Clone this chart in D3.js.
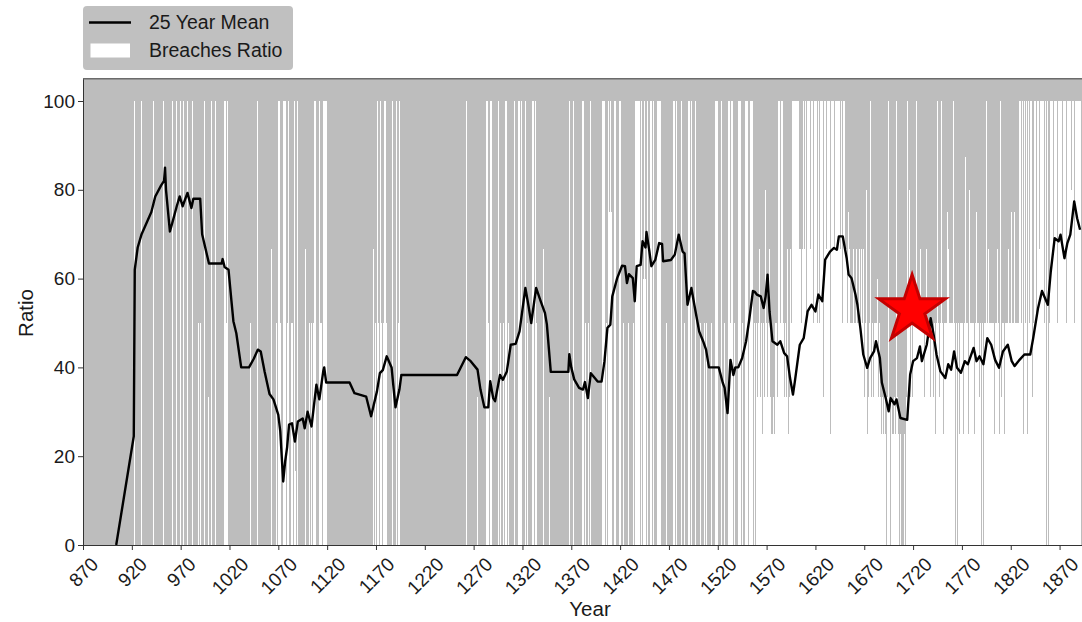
<!DOCTYPE html>
<html>
<head>
<meta charset="utf-8">
<script src="https://cdn.jsdelivr.net/npm/d3@7"></script>
<title>Breaches Ratio</title>
<style>
  body { margin: 0; background: #fff; }
  svg { display: block; font-family: "Liberation Sans", Arial, Helvetica, sans-serif; }
  .axis text { fill: #1a1a1a; font-size: 19px; }
  .axis path, .axis line { stroke: #333; }
</style>
</head>
<body>
<svg id="chart" width="1082" height="622"></svg>
<script>

// breaches ratio, one character per year, rows of 50 years starting at 870
const breachStart = 870
const breachLevels = {
    ".": 0, "1": 16.7, "2": 20, "3": 25, "4": 33.3, "x": 40, "5": 50,
    "y": 60, "6": 66.7, "7": 75, "8": 80, "z": 87.5, "9": 100
}
const breachRows = [
    ".......... .......... .......... .......... ..........",   // 870
    "...9...... 9......... ..9....... ..9....... ..9...9...",   // 920
    "9..9...9.. ..9.....5. 5...9...4. ..9...9... .....9959.",   // 970
    ".......... .......... .5.......9 .......... ...6....5.",   // 1020
    "995..999.5 9..5.5.91. 9.......6. ..5.5.599. ..955.9999",   // 1070
    ".......... .......... .......... .......... .......6.5",   // 1120
    "5.95.95.59 95.....9.. .9.59..... .......... ..........",   // 1170
    ".......... .......... .......... .......... ...9......",   // 1220
    "....4..... ...995.99. .....9.5.. .5.99.5... ..9...9959",   // 1270
    "...9.5.... 99.95..... ..6.....4. .......... ........9.",   // 1320
    "..9....... .99..5..5. 9......... ..999.5.97 97..99...9",   // 1370
    "9..5.....5 ....5.9999 9.9.y9y.9. .99.9...99 99......5.",   // 1420
    ".....99.9. ...9..5... 99.9...9.. ..5...5.5. ....5...99",   // 1470
    "9...9..5.. .99599.5.. .999.5..99 9.5.999.5. 5456453548",   // 1520
    "5456433435 5499599545 4634645999 9999665696 9599969959",   // 1570
    "9959599949 9699939999 6999996959 9665765556 5565565656",   // 1620
    "4583459454 5455y45434 343.494.43 343943.3.. .3.4958454",   // 1670
    "5556955565 5545655545 5453595459 5355576555 595.5.5535",   // 1720
    "5535z55385 5553575545 .5.5595655 5553556535 9455355565",   // 1770
    "5755755559 9593959395 9945995996 9969959.9. 5999699959",   // 1820
    "9996999599 9989959999 99"                                  // 1870
]

// 25 year mean, [year, ratio]
const meanPoints = [
    [904, 0], [922, 24.5], [923, 62], [926, 67], [930, 70], [940, 75], [944, 78.5],
    [950, 81], [953, 82], [954, 85], [955, 80], [959, 70.6], [962, 73], [966, 76.3],
    [969, 78.5], [972, 76.3], [977, 79.3], [981, 75.9], [983, 78], [990, 78], [992, 70],
    [999, 63.4], [1012, 63.4], [1013, 64.4], [1015, 62.6], [1019, 62], [1022, 55],
    [1024, 50.4], [1027, 47.7], [1032, 40], [1040, 40], [1045, 42], [1049, 44],
    [1052, 43.6], [1056, 39], [1061, 34], [1065, 32.8], [1070, 29.3], [1072, 25.6],
    [1075, 14.3], [1077, 18.8], [1079, 22], [1081, 27.1], [1084, 27.4], [1087, 23.3],
    [1090, 27.8], [1095, 28.5], [1097, 26.3], [1100, 30], [1104, 26.7], [1109, 36.1],
    [1112, 32.8], [1116, 39.1], [1117, 40], [1119, 36.6], [1143, 36.6], [1148, 34.2],
    [1160, 33.4], [1165, 29], [1171, 34.6], [1174, 38.7], [1177, 39.4], [1181, 42.5],
    [1186, 40], [1188, 35.4], [1190, 31], [1194, 35], [1196, 38.3], [1253, 38.3],
    [1262, 42.3], [1267, 41.4], [1274, 39.5], [1277, 35], [1281, 31], [1285, 31],
    [1287, 36.9], [1290, 33.1], [1292, 32.4], [1297, 38.3], [1300, 37.2], [1304, 39.1],
    [1308, 45.1], [1313, 45.3], [1317, 48.1], [1323, 57.9], [1326, 54.1], [1329, 50],
    [1334, 57.9], [1339, 54.7], [1343, 52.3], [1345, 49.7], [1349, 39], [1367, 39],
    [1368, 43], [1370, 40], [1373, 37.3], [1378, 35.4], [1382, 35], [1384, 36.7],
    [1387, 33.1], [1390, 38.7], [1393, 37.9], [1397, 36.8], [1401, 36.8], [1404, 41.4],
    [1407, 48.9], [1410, 49.6], [1412, 56], [1417, 60.1], [1422, 62.9], [1425, 62.8],
    [1427, 59], [1429, 61], [1433, 60.1], [1435, 54.9], [1437, 62.8], [1441, 63.1],
    [1443, 68.4], [1446, 67], [1447, 70.5], [1450, 66.1], [1452, 62.8], [1456, 64.2],
    [1460, 68], [1463, 67.8], [1464, 63.9], [1472, 64.2], [1476, 65.4], [1480, 69.9],
    [1484, 66.1], [1486, 65.7], [1489, 54.1], [1493, 57.9], [1496, 54.1], [1501, 48.1],
    [1505, 45.9], [1508, 44], [1511, 40], [1521, 40], [1525, 36.6], [1527, 35.4],
    [1530, 29.7], [1533, 41.7], [1536, 38.3], [1538, 40], [1541, 40], [1545, 42.1],
    [1549, 45.9], [1552, 50.4], [1556, 57.2], [1558, 57], [1560, 56.4], [1564, 56],
    [1567, 53.4], [1569, 56], [1571, 60.9], [1573, 52.6], [1576, 45.9], [1581, 45.1],
    [1584, 45.9], [1588, 43.2], [1591, 42.5], [1594, 37.6], [1597, 33.9], [1599, 36.9],
    [1604, 45.1], [1608, 46.6], [1612, 52.6], [1616, 54.1], [1620, 52.6], [1623, 56.4],
    [1627, 54.9], [1630, 64.3], [1635, 66.1], [1639, 66.9], [1642, 66.5], [1644, 69.5],
    [1648, 69.5], [1652, 64.6], [1654, 60.9], [1657, 60.1], [1661, 56.4], [1663, 54.1],
    [1666, 48.9], [1669, 42.9], [1673, 39.9], [1676, 42.1], [1680, 43.6], [1682, 45.9],
    [1686, 42.1], [1688, 36.6], [1692, 33.1], [1695, 30.1], [1697, 33.1], [1701, 31.7],
    [1703, 32.8], [1707, 28.6], [1714, 28.2], [1717, 38.4], [1720, 41.4], [1724, 42.1],
    [1727, 44.7], [1729, 41.4], [1734, 45.1], [1738, 51.1], [1741, 47.4], [1744, 42.9],
    [1748, 39.1], [1753, 37.6], [1756, 40.7], [1759, 39.5], [1762, 43.6], [1765, 39.9],
    [1769, 38.8], [1773, 41.4], [1776, 40.7], [1782, 44.4], [1785, 41.4], [1788, 42.5],
    [1792, 40.7], [1796, 46.6], [1800, 45.1], [1804, 41.7], [1808, 39.9], [1812, 43.6],
    [1817, 45.1], [1821, 41.4], [1824, 40.3], [1829, 41.7], [1834, 42.9], [1840, 42.9],
    [1843, 46.6], [1848, 53.4], [1852, 57.2], [1858, 54.1], [1861, 61.6], [1865, 69.1],
    [1869, 68.4], [1871, 69.9], [1875, 64.6], [1878, 68], [1881, 69.9], [1885, 77.4],
    [1888, 73.6], [1891, 71]
]

const xTicks = d3.range(870, 1871, 50)
const yTicks = [0, 20, 40, 60, 80, 100]
const starPoint = [1719, 53]

const breaches = []
breachRows.forEach(function (row, i) {
    row.replace(/ /g, "").split("").forEach(function (c, j) {
        breaches.push({ year: breachStart + i * 50 + j, value: breachLevels[c] })
    })
})

var svg = d3.select("#chart")

var x = d3.scaleLinear().domain([870, 1894]).range([83, 1083])
var y = d3.scaleLinear().domain([0, 105]).range([545, 78.8])

svg.append("clipPath").attr("id", "plotClip")
    .append("rect")
    .attr("x", x(870)).attr("y", y(105))
    .attr("width", x(1894) - x(870)).attr("height", y(0) - y(105))

// plot background
svg.append("rect")
    .attr("x", x(870)).attr("y", y(105))
    .attr("width", x(1894) - x(870)).attr("height", y(0) - y(105))
    .attr("fill", "#bdbdbd")

var plot = svg.append("g").attr("clip-path", "url(#plotClip)")

// one pixel wide bars, snapped so they stay bright white
plot.append("g")
    .attr("shape-rendering", "crispEdges")
    .selectAll("rect")
    .data(breaches.filter(d => d.value > 0))
    .enter().append("rect")
    .attr("x", d => Math.round(x(d.year - 0.5)))
    .attr("width", d => Math.max(1, Math.round(x(d.year + 0.5)) - Math.round(x(d.year - 0.5))))
    .attr("y", d => Math.round(y(d.value)))
    .attr("height", d => y(0) - Math.round(y(d.value)))
    .attr("fill", "#fff")

var line = d3.line().x(d => x(d[0])).y(d => y(d[1]))

plot.append("path")
    .datum(meanPoints)
    .attr("d", line)
    .attr("fill", "none")
    .attr("stroke", "#000")
    .attr("stroke-width", 2.4)
    .attr("stroke-linejoin", "round")

// star marker
var starR = 35
svg.append("path")
    .attr("d", d3.symbol(d3.symbolStar, starR * starR / 0.8908130915292852)())
    .attr("transform", `translate(${x(starPoint[0])},${y(starPoint[1])})`)
    .attr("fill", "#ff0000")
    .attr("stroke", "#c40000")
    .attr("stroke-width", 3)
    .attr("stroke-linejoin", "miter")

// top spine
svg.append("line")
    .attr("x1", x(870)).attr("x2", x(1894))
    .attr("y1", y(105)).attr("y2", y(105))
    .attr("stroke", "#333")

var yAxis = svg.append("g")
    .attr("class", "axis")
    .attr("transform", `translate(${x(870)},0)`)
    .call(d3.axisLeft(y).tickValues(yTicks).tickSize(5).tickSizeOuter(0).tickPadding(3))
yAxis.attr("font-family", null).attr("font-size", null)

var xAxis = svg.append("g")
    .attr("class", "axis")
    .attr("transform", `translate(0,${y(0)})`)
    .call(d3.axisBottom(x).tickValues(xTicks).tickFormat(d3.format("d")).tickSize(5).tickSizeOuter(0))
xAxis.attr("font-family", null).attr("font-size", null)

xAxis.selectAll(".tick text")
    .attr("text-anchor", "middle")
    .attr("y", 0)
    .attr("dy", "0.35em")
    .attr("transform", function () {
        var w = this.getComputedTextLength()
        return `translate(0,${11 + (w + 13.6) * 0.3536}) rotate(-45)`
    })

// axis titles
svg.append("text")
    .attr("x", 590).attr("y", 616)
    .attr("text-anchor", "middle")
    .attr("font-size", 20.5)
    .attr("fill", "#1a1a1a")
    .text("Year")

svg.append("text")
    .attr("transform", "translate(33,313) rotate(-90)")
    .attr("text-anchor", "middle")
    .attr("font-size", 20.5)
    .attr("fill", "#1a1a1a")
    .text("Ratio")

// legend
var legend = svg.append("g")
legend.append("rect")
    .attr("x", 83).attr("y", 6)
    .attr("width", 210).attr("height", 64)
    .attr("rx", 4)
    .attr("fill", "#c0c0c0")
legend.append("line")
    .attr("x1", 89).attr("x2", 131)
    .attr("y1", 22.5).attr("y2", 22.5)
    .attr("stroke", "#000")
    .attr("stroke-width", 2.3)
legend.append("rect")
    .attr("x", 90.5).attr("y", 43.5)
    .attr("width", 39.5).attr("height", 14)
    .attr("fill", "#fff")
legend.append("text")
    .attr("x", 149).attr("y", 28.8)
    .attr("font-size", 19.5)
    .attr("fill", "#1a1a1a")
    .text("25 Year Mean")
legend.append("text")
    .attr("x", 149).attr("y", 57.3)
    .attr("font-size", 19.5)
    .attr("fill", "#1a1a1a")
    .text("Breaches Ratio")

</script>
</body>
</html>
